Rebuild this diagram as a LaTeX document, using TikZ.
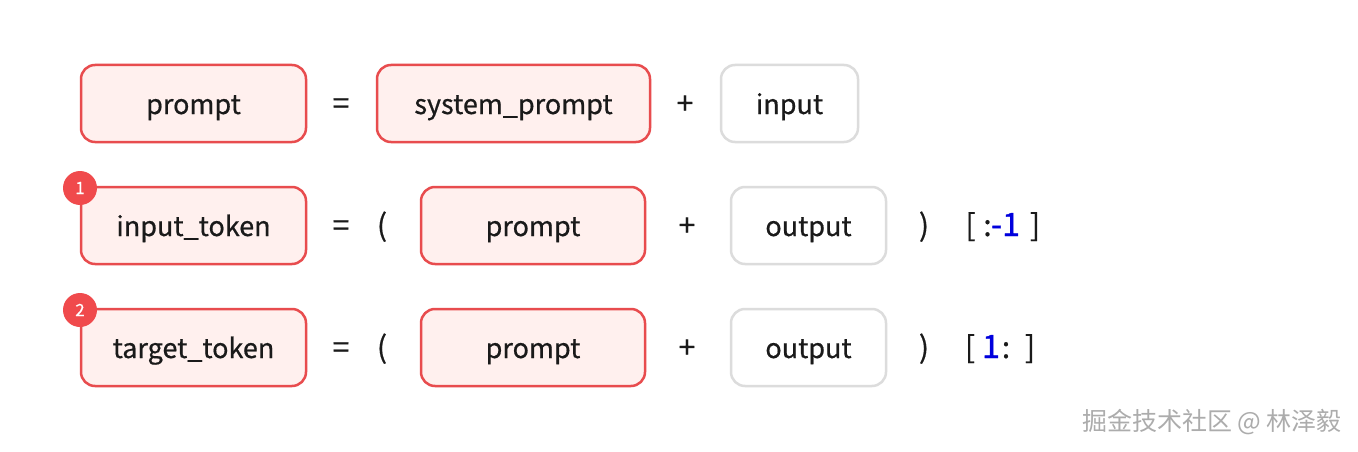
\documentclass[tikz,border=0pt]{standalone}
\usepackage{fontspec}
\setmainfont{Noto Sans CJK SC}[FakeBold=0.6]
\newfontfamily\markfont{Noto Sans CJK SC}
\newfontfamily\idxfont{Noto Sans CJK SC}[FakeBold=1.4]
\usetikzlibrary{positioning}

\definecolor{boxred}{HTML}{E84C4E}
\definecolor{boxpink}{HTML}{FFF0EE}
\definecolor{boxgray}{HTML}{DCDCDC}
\definecolor{badgered}{HTML}{F04A4C}
\definecolor{textblack}{HTML}{1A1A1A}
\definecolor{idxblue}{HTML}{0000DD}

\tikzset{
	txt/.style={text=textblack, font=\fontsize{27}{32}\selectfont, inner sep=0pt, text height=21pt, text depth=0pt},
	sym/.style={txt, font=\fontsize{30}{34}\selectfont},
	idx/.style={txt, text=idxblue, font=\idxfont\fontsize{32}{36}\selectfont},
	redbox/.style={txt, draw=boxred, fill=boxpink, line width=2.5pt, rounded corners=14pt, minimum height=77pt},
	graybox/.style={txt, draw=boxgray, fill=white, line width=2.5pt, rounded corners=14pt, minimum height=77pt},
	badge/.style={circle, fill=badgered, text=white, minimum size=34pt, inner sep=0pt, font=\fontsize{17}{20}\selectfont},
}

\begin{document}
\begin{tikzpicture}[x=1pt, y=-1pt]
		\useasboundingbox[fill=white] (0, 0) rectangle (1358, 452);
		
		% row 1
		\node[redbox, minimum width=225pt] (prompt) at (193.5, 103.5) {prompt};
		\node[sym] (eqa) at (341, 103.5) {=};
		\node[redbox, minimum width=273pt] (sysprompt) at (513.5, 103.5) {system\_prompt};
		\node[sym] (plusa) at (685, 103.5) {+};
		\node[graybox, minimum width=137pt] (input) at (789.5, 103.5) {input};
		
		% row 2
		\node[redbox, minimum width=225pt] (inputtok) at (193.5, 225.5) {input\_token};
		\node[badge] (badgea) at (80, 188) {1};
		\node[sym] (eqb) at (341, 225.5) {=};
		\node[sym] (lpb) at (382, 225.5) {(};
		\node[redbox, minimum width=224pt] (promptb) at (533, 225.5) {prompt};
		\node[sym] (plusb) at (687, 225.5) {+};
		\node[graybox, minimum width=155pt] (outputb) at (808.5, 225.5) {output};
		\node[sym] (rpb) at (924, 225.5) {)};
		\node[sym] (lbb) at (970.5, 225.5) {[};
		\node[sym] (colb) at (987.5, 225.5) {:};
		\node[idx] (numb) at (1005.5, 225.5) {-1};
		\node[sym] (rbb) at (1035, 225.5) {]};
		
		% row 3
		\node[redbox, minimum width=225pt] (targettok) at (193.5, 347.5) {target\_token};
		\node[badge] (badgeb) at (80, 310) {2};
		\node[sym] (eqc) at (341, 347.5) {=};
		\node[sym] (lpc) at (382, 347.5) {(};
		\node[redbox, minimum width=224pt] (promptc) at (533, 347.5) {prompt};
		\node[sym] (plusc) at (687, 347.5) {+};
		\node[graybox, minimum width=155pt] (outputc) at (808.5, 347.5) {output};
		\node[sym] (rpc) at (924, 347.5) {)};
		\node[sym] (lbc) at (970, 347.5) {[};
		\node[idx] (numc) at (991, 347.5) {1};
		\node[sym] (colc) at (1006, 347.5) {:};
		\node[sym] (rbc) at (1030, 347.5) {]};
		
		\node[text=gray!65, font=\markfont\fontsize{25}{30}\selectfont, inner sep=0pt] (mark) at (1212, 422) {掘金技术社区 @ 林泽毅};
	\end{tikzpicture}
\end{document}
